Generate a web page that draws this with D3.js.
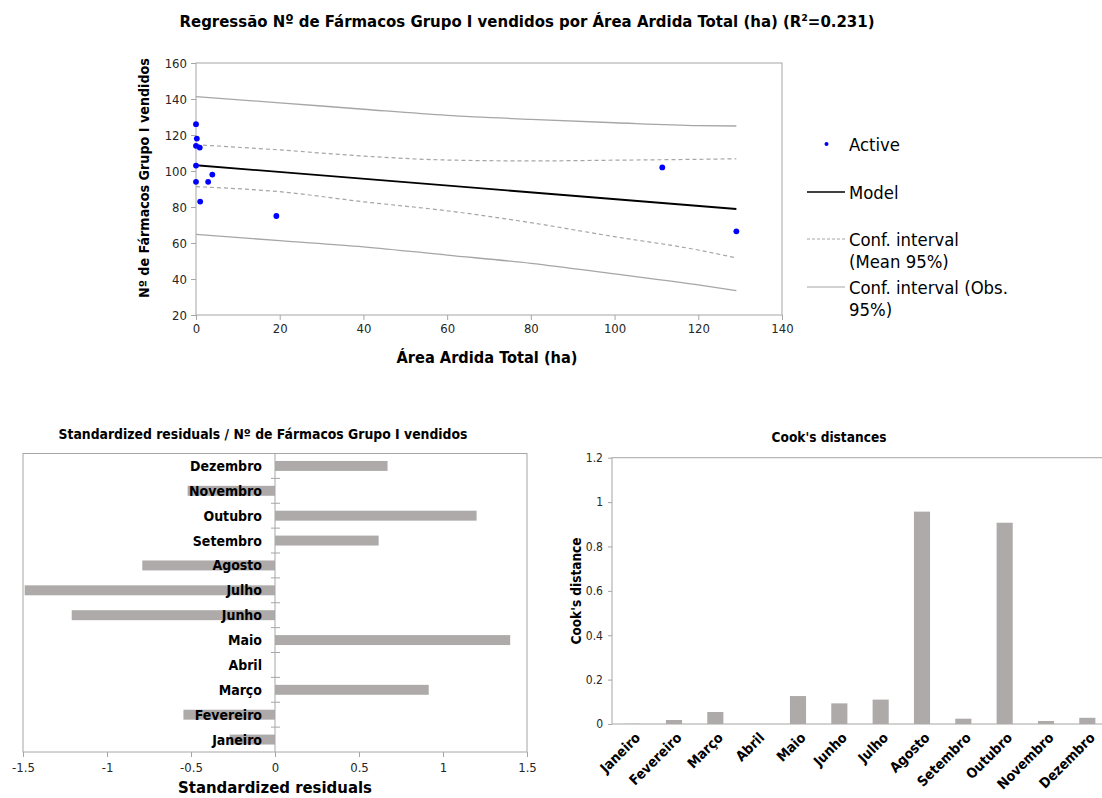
<!DOCTYPE html>
<html>
<head>
<meta charset="utf-8">
<script src="https://cdn.jsdelivr.net/npm/d3@7"></script>
<style>
  html, body { margin: 0; padding: 0; background: #ffffff; }
  svg { display: block; }
  text { font-family: "DejaVu Sans Condensed", "Open Sans", sans-serif; }
</style>
</head>
<body>
<svg id="chart" width="1102" height="798"></svg>
<script>
// ---------------- DATA ----------------
const months = ["Janeiro","Fevereiro","Março","Abril","Maio","Junho","Julho","Agosto","Setembro","Outubro","Novembro","Dezembro"];

// Scatter: Área Ardida Total (ha) vs Nº de Fármacos Grupo I vendidos
const areaArdida = [0, 0.2, 0, 0.9, 0, 0, 2.9, 3.9, 1.0, 19.2, 111.4, 129.1];
const farmacos   = [126, 118, 114, 113, 103, 94, 94, 98, 83, 75, 102, 66.5];

// Regression model line
const modelX = [0, 129.1];
const modelY = [103.2, 78.9];

// Confidence intervals
const ciX        = [0, 20, 40, 60, 80, 100, 120, 129.1];
const ciMeanHigh = [114.6, 111.7, 108.3, 106.1, 105.6, 106.0, 106.5, 106.8];
const ciMeanLow  = [91.3, 88.5, 82.9, 77.9, 71.3, 63.5, 56.1, 51.7];
const ciObsHigh  = [141.3, 137.9, 134.3, 130.9, 128.7, 126.8, 125.2, 125.0];
const ciObsLow   = [64.8, 61.3, 57.9, 53.3, 48.7, 42.8, 36.7, 33.5];

// Standardized residuals
const stdResid = [-0.27, -0.545, 0.915, 0.0, 1.40, -1.21, -1.49, -0.79, 0.617, 1.20, -0.52, 0.67];

// Cook's distances
const cooks = [0.001, 0.018, 0.054, 0.0, 0.126, 0.093, 0.11, 0.957, 0.024, 0.907, 0.0135, 0.028];

// Tick values
const topXTicks = [0, 20, 40, 60, 80, 100, 120, 140];
const topYTicks = [20, 40, 60, 80, 100, 120, 140, 160];
const residTicks = [-1.5, -1, -0.5, 0, 0.5, 1, 1.5];
const cookTicks = [0, 0.2, 0.4, 0.6, 0.8, 1, 1.2];

// Legend entries
const legendItems = [
  {type: "dot", lines: ["Active"]},
  {type: "model", lines: ["Model"]},
  {type: "mean", lines: ["Conf. interval", "(Mean 95%)"]},
  {type: "obs", lines: ["Conf. interval (Obs.", "95%)"]}
];

// ---------------- STYLE ----------------
const axisGrey = "#a6a6a6";
const barGrey = "#aeaaaa";
const tickText = "#262626";

const svg = d3.select("#chart");

function fitWidth(sel, target) {
  const node = sel.node();
  const fs = parseFloat(sel.attr("font-size"));
  const w = node.getComputedTextLength();
  if (w > 0) sel.attr("font-size", (fs * target / w).toFixed(2));
  return parseFloat(sel.attr("font-size"));
}

function styleAxis(g) {
  g.select(".domain").remove();
  g.selectAll(".tick line").attr("stroke", axisGrey);
  g.selectAll(".tick text").attr("fill", tickText).attr("font-size", 13);
}

// ================= TOP: regression =================
const tx = d3.scaleLinear().domain([0, 140]).range([196, 782]);
const ty = d3.scaleLinear().domain([20, 160]).range([315, 63]);

const topG = svg.append("g");

topG.append("rect")
  .attr("x", tx(0)).attr("y", ty(160))
  .attr("width", tx(140) - tx(0)).attr("height", ty(20) - ty(160))
  .attr("fill", "none").attr("stroke", axisGrey).attr("stroke-width", 1);

topG.append("g").attr("transform", `translate(0,${ty(20)})`)
  .call(d3.axisBottom(tx).tickValues(topXTicks).tickSize(5).tickPadding(4).tickFormat(d3.format("d")))
  .call(styleAxis);

topG.append("g").attr("transform", `translate(${tx(0)},0)`)
  .call(d3.axisLeft(ty).tickValues(topYTicks).tickSize(5).tickPadding(4).tickFormat(d3.format("d")))
  .call(styleAxis);

const lineGen = (xs, ys) => d3.line().curve(d3.curveMonotoneX).x((d, i) => tx(xs[i])).y((d, i) => ty(ys[i]))(xs);

topG.append("path").attr("d", lineGen(ciX, ciObsHigh)).attr("fill", "none").attr("stroke", "#a6a6a6").attr("stroke-width", 1.3);
topG.append("path").attr("d", lineGen(ciX, ciObsLow)).attr("fill", "none").attr("stroke", "#a6a6a6").attr("stroke-width", 1.3);
topG.append("path").attr("d", lineGen(ciX, ciMeanHigh)).attr("fill", "none").attr("stroke", "#a6a6a6").attr("stroke-width", 1.2).attr("stroke-dasharray", "4,3");
topG.append("path").attr("d", lineGen(ciX, ciMeanLow)).attr("fill", "none").attr("stroke", "#a6a6a6").attr("stroke-width", 1.2).attr("stroke-dasharray", "4,3");
topG.append("path").attr("d", lineGen(modelX, modelY)).attr("fill", "none").attr("stroke", "#000").attr("stroke-width", 1.8);

topG.selectAll("circle.pt").data(areaArdida).join("circle")
  .attr("class", "pt")
  .attr("cx", (d) => tx(d))
  .attr("cy", (d, i) => ty(farmacos[i]))
  .attr("r", 2.9)
  .attr("fill", "#0000ff");

// titles
const mainTitle = svg.append("text")
  .attr("x", 527).attr("y", 27)
  .attr("text-anchor", "middle").attr("font-weight", "bold").attr("font-size", 15)
  .text("Regressão Nº de Fármacos Grupo I vendidos por Área Ardida Total (ha) (R²=0.231)");
fitWidth(mainTitle, 695);

const xTitle = svg.append("text")
  .attr("x", 487).attr("y", 363)
  .attr("text-anchor", "middle").attr("font-weight", "bold").attr("font-size", 16)
  .text("Área Ardida Total (ha)");
fitWidth(xTitle, 181);

const yTitle = svg.append("text")
  .attr("transform", "translate(149,178) rotate(-90)")
  .attr("text-anchor", "middle").attr("font-weight", "bold").attr("font-size", 16)
  .text("Nº de Fármacos Grupo I vendidos");
fitWidth(yTitle, 240);

// legend
const legY = [144, 192, 239, 287];
const leg = svg.append("g");
// measure font size so the widest legend line matches the reference
const probe = leg.append("text").attr("font-size", 16).text("Conf. interval (Obs.");
const legFont = fitWidth(probe, 159);
probe.remove();
legendItems.forEach((it, i) => {
  const y = legY[i];
  if (it.type === "dot") {
    leg.append("circle").attr("cx", 826.5).attr("cy", y).attr("r", 2).attr("fill", "#0000ff");
  } else {
    const l = leg.append("line").attr("x1", 807).attr("x2", 845).attr("y1", y).attr("y2", y);
    if (it.type === "model") l.attr("stroke", "#000").attr("stroke-width", 1.5);
    if (it.type === "mean") l.attr("stroke", "#a6a6a6").attr("stroke-width", 1).attr("stroke-dasharray", "3,2");
    if (it.type === "obs") l.attr("stroke", "#a6a6a6").attr("stroke-width", 1.2);
  }
  it.lines.forEach((t, j) => {
    leg.append("text").attr("x", 849).attr("y", y + j * 22)
      .attr("dominant-baseline", "central").attr("font-size", legFont).attr("fill", "#000").text(t);
  });
});

// ================= BOTTOM LEFT: standardized residuals =================
const rx = d3.scaleLinear().domain([-1.5, 1.5]).range([23, 527]);
const ry = d3.scaleBand().domain(months).range([752, 453.5]).paddingInner(0.6).paddingOuter(0.3);

const bl = svg.append("g");
bl.append("rect")
  .attr("x", rx(-1.5)).attr("y", 453.5)
  .attr("width", rx(1.5) - rx(-1.5)).attr("height", 752 - 453.5)
  .attr("fill", "none").attr("stroke", axisGrey);

bl.append("g").attr("transform", `translate(0,752)`)
  .call(d3.axisBottom(rx).tickValues(residTicks).tickSize(5).tickPadding(6).tickFormat(d => String(d)))
  .call(styleAxis);

bl.selectAll("rect.bar").data(stdResid).join("rect")
  .attr("class", "bar")
  .attr("x", d => rx(Math.min(0, d)))
  .attr("width", d => Math.abs(rx(d) - rx(0)))
  .attr("y", (d, i) => ry(months[i]))
  .attr("height", ry.bandwidth())
  .attr("fill", barGrey);

bl.append("line").attr("x1", rx(0)).attr("x2", rx(0)).attr("y1", 453.5).attr("y2", 752).attr("stroke", axisGrey);
const step = ry.step();
months.slice(0, 11).forEach((m) => {
  const yb = ry(m) - (step - ry.bandwidth()) / 2;
  bl.append("line").attr("x1", rx(0) - 4).attr("x2", rx(0) + 5).attr("y1", yb).attr("y2", yb).attr("stroke", axisGrey);
});

bl.selectAll("text.cat").data(months).join("text")
  .attr("class", "cat")
  .attr("x", 262)
  .attr("y", m => ry(m) + ry.bandwidth() / 2)
  .attr("dominant-baseline", "central")
  .attr("text-anchor", "end").attr("font-weight", "bold").attr("font-size", 14).attr("fill", "#000")
  .text(m => m);

const blTitle = svg.append("text")
  .attr("x", 263).attr("y", 439)
  .attr("text-anchor", "middle").attr("font-weight", "bold").attr("font-size", 13)
  .text("Standardized residuals / Nº de Fármacos Grupo I vendidos");
fitWidth(blTitle, 409);

const blX = svg.append("text")
  .attr("x", 275).attr("y", 793)
  .attr("text-anchor", "middle").attr("font-weight", "bold").attr("font-size", 16)
  .text("Standardized residuals");
fitWidth(blX, 194);

// ================= BOTTOM RIGHT: Cook's distances =================
const cx = d3.scaleBand().domain(months).range([612, 1108]).paddingInner(0.61).paddingOuter(0.305);
const cy = d3.scaleLinear().domain([0, 1.2]).range([724, 457.7]);

const br = svg.append("g");
br.append("rect")
  .attr("x", 612).attr("y", cy(1.2))
  .attr("width", 1108 - 612).attr("height", cy(0) - cy(1.2))
  .attr("fill", "none").attr("stroke", axisGrey);

br.append("g").attr("transform", `translate(612,0)`)
  .call(d3.axisLeft(cy).tickValues(cookTicks).tickSize(4).tickPadding(5).tickFormat(d => String(d)))
  .call(styleAxis)
  .call(g => g.selectAll(".tick text").attr("font-size", 12));

br.selectAll("rect.bar").data(cooks).join("rect")
  .attr("class", "bar")
  .attr("x", (d, i) => cx(months[i]))
  .attr("width", cx.bandwidth())
  .attr("y", d => cy(d))
  .attr("height", d => cy(0) - cy(d))
  .attr("fill", barGrey);

br.selectAll("text.cl").data(months).join("text")
  .attr("class", "cl")
  .attr("transform", m => `translate(${cx(m) + cx.bandwidth() / 2 + 5},${735}) rotate(-45)`)
  .attr("text-anchor", "end").attr("dominant-baseline", "central")
  .attr("font-weight", "bold").attr("font-size", 14).attr("fill", "#000")
  .text(m => m);

const crTitle = svg.append("text")
  .attr("x", 829).attr("y", 442)
  .attr("text-anchor", "middle").attr("font-weight", "bold").attr("font-size", 13)
  .text("Cook's distances");
fitWidth(crTitle, 115);

const crY = svg.append("text")
  .attr("transform", "translate(581,591) rotate(-90)")
  .attr("text-anchor", "middle").attr("font-weight", "bold").attr("font-size", 14)
  .text("Cook's distance");
fitWidth(crY, 107);
</script>
</body>
</html>
